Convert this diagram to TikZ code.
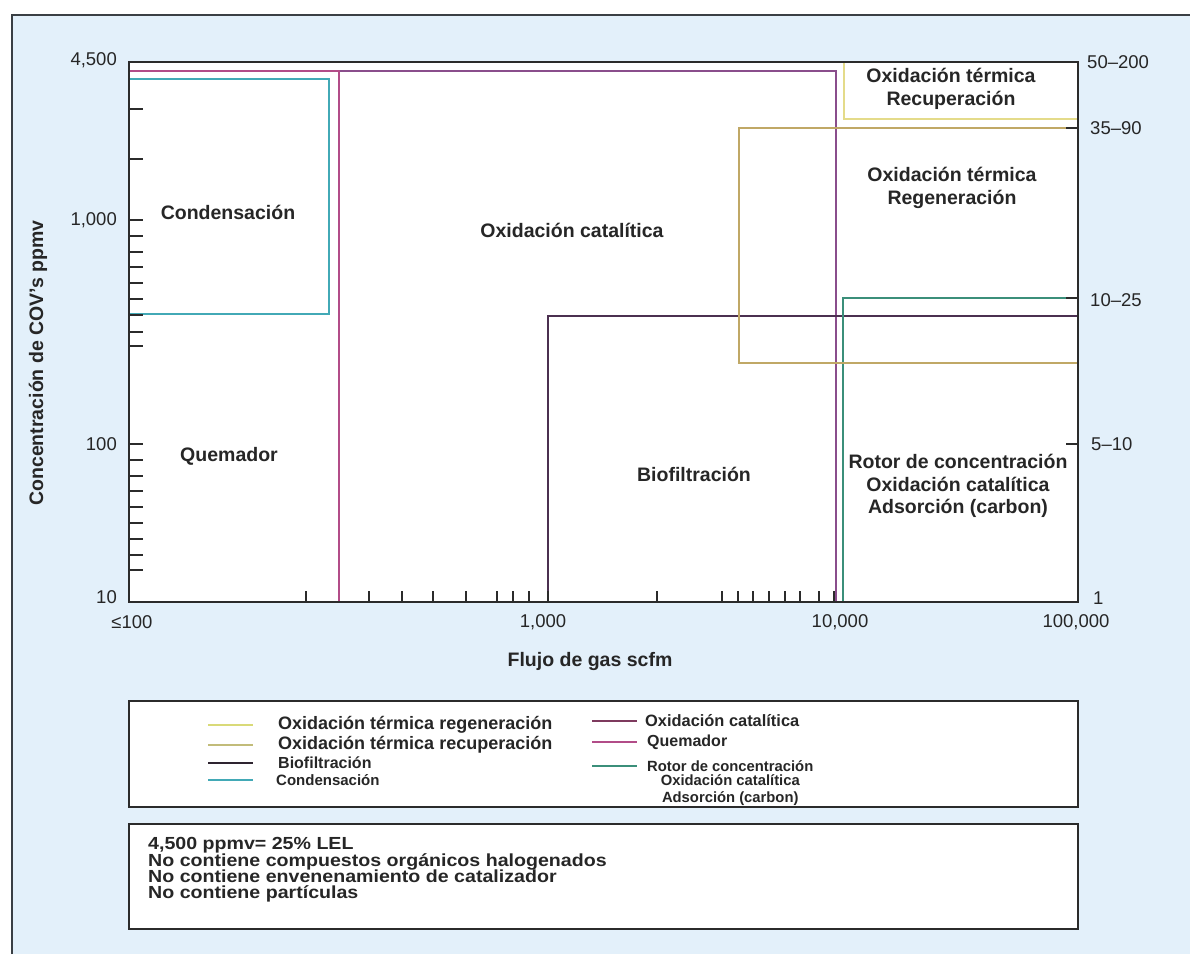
\documentclass[tikz,border=0pt]{standalone}
\usepackage{fontspec}
\setmainfont{Liberation Sans}
\newfontfamily\notesfont[FakeStretch=1.12]{Liberation Sans}
\usetikzlibrary{positioning}
\definecolor{frameBg}{HTML}{E3F0FA}
\definecolor{frameGray}{HTML}{3A3F44}
\definecolor{axisDark}{HTML}{2B2B2B}
\definecolor{textDark}{HTML}{262626}
\definecolor{condTeal}{HTML}{42A9B6}
\definecolor{quemPink}{HTML}{B24C88}
\definecolor{catPurple}{HTML}{8A4E8C}
\definecolor{bioPurple}{HTML}{4B3050}
\definecolor{rotorGreen}{HTML}{3B8F7A}
\definecolor{recupYellow}{HTML}{E4DB8A}
\definecolor{regenTan}{HTML}{C0A866}
\definecolor{legYellow}{HTML}{D9DA78}
\definecolor{legOlive}{HTML}{C2BC7A}
\definecolor{legDark}{HTML}{2E2430}
\definecolor{legMaroon}{HTML}{7E3A5E}
\newcommand{\TightLines}{\lineskiplimit-100pt\relax}
\newcommand{\LegendItem}[6]{
    % #1: node name, #2: position, #3: line colour, #4: gap to text, #5: font size, #6: label
    \node[anchor=west, inner sep=0pt, text=textDark, font=\bfseries\fontsize{#5}{#5}\selectfont] (#1) at (#2) {#6};
    \draw[line width=1.6pt, #3] ([xshift=-#4-45pt]#1.west) -- ([xshift=-#4]#1.west);
}

\begin{document}
\begin{tikzpicture}[x=1pt, y=-1pt,
        regionLbl/.style={inner sep=0pt, align=center, text=textDark, font=\bfseries\fontsize{19.5}{23}\selectfont},
        axisNum/.style={inner sep=0pt, text=textDark, font=\fontsize{18.5}{18.5}\selectfont},
        tickLine/.style={line width=1.4pt, axisDark},
        zoneLine/.style={line width=1.6pt}]
        \useasboundingbox (0,0) rectangle (1190,954);

        % Background and frame
        \fill[white] (0,0) rectangle (1190,954);
        \fill[frameBg] (12,15) rectangle (1190,954);
        \draw[line width=1.5pt, frameGray] (12,954) -- (12,15) -- (1190,15);
        \fill[white] (129,62) rectangle (1078,602);

        % Zones
        \draw[zoneLine, condTeal] (129,79) -- (329,79) -- (329,314) -- (129,314);
        \draw[zoneLine, catPurple] (339,602) -- (339,71) -- (836,71) -- (836,602);
        \draw[zoneLine, quemPink] (129,71) -- (339,71) -- (339,602);
        \draw[zoneLine, bioPurple] (548,602) -- (548,316) -- (1078,316);
        \draw[zoneLine, rotorGreen] (843,602) -- (843,298) -- (1078,298);
        \draw[zoneLine, regenTan] (1078,128) -- (739,128) -- (739,363) -- (1078,363);
        \draw[zoneLine, recupYellow] (844,62) -- (844,119) -- (1078,119);

        % Ticks
        \foreach \ty in {109,159,220,236,252,267,283,299,315,332,346,444,460,476,491,507,523,539,555,570}
            \draw[tickLine] (129,\ty) -- (143,\ty);
        \foreach \tx in {306,369,402,433,466,497,513,529,548,657,722,738,753,769,785,800,819,834}
            \draw[tickLine] (\tx,602) -- (\tx,591);
        \foreach \ty in {128,298,444}
            \draw[tickLine] (1078,\ty) -- (1066,\ty);

        % Axes
        \draw[line width=2.2pt, axisDark] (129,62) rectangle (1078,602);

        % Zone labels
        \node[regionLbl] (condLbl) at (228,212) {Condensación};
        \node[regionLbl] (catLbl) at (572,230) {Oxidación catalítica};
        \node[regionLbl] (quemLbl) at (229,456) {Quemador};
        \node[regionLbl] (bioLbl) at (694,474) {Biofiltración};
        \node[regionLbl] (recupLbl) at (951,89) {Oxidación térmica\\Recuperación};
        \node[regionLbl] (regenLbl) at (952,188) {Oxidación térmica\\Regeneración};
        \node[regionLbl, font=\bfseries\fontsize{19.5}{22.5}\selectfont] (rotorLbl) at (958,486) {Rotor de concentración\\Oxidación catalítica\\Adsorción (carbon)};

        % Axis values
        \node[axisNum, anchor=east] (y4500) at (117,60) {4,500};
        \node[axisNum, anchor=east] (y1000) at (117,220) {1,000};
        \node[axisNum, anchor=east] (y100) at (117,444) {100};
        \node[axisNum, anchor=east] (y10) at (117,597) {10};
        \node[axisNum] (xMin) at (132,622) {≤100};
        \node[axisNum] (x1000) at (543,622) {1,000};
        \node[axisNum] (x10000) at (840,622) {10,000};
        \node[axisNum] (x100000) at (1076,622) {100,000};
        \node[axisNum, anchor=west] (r50) at (1087,62) {50--200};
        \node[axisNum, anchor=west] (r35) at (1090,128) {35--90};
        \node[axisNum, anchor=west] (r10) at (1090,300) {10--25};
        \node[axisNum, anchor=west] (r5) at (1091,444) {5--10};
        \node[axisNum, anchor=west] (r1) at (1093,598) {1};

        % Axis titles
        \node[regionLbl] (xTitle) at (590,661) {Flujo de gas scfm};
        \node[regionLbl, rotate=90] (yTitle) at (38,363) {Concentración de COV's ppmv};

        % Legend
        \draw[line width=2pt, axisDark, fill=white] (129,701) rectangle (1078,807);
        \LegendItem{lgRegen}{278,725}{legYellow}{25pt}{18}{Oxidación térmica regeneración}
        \LegendItem{lgRecup}{278,745}{legOlive}{25pt}{18}{Oxidación térmica recuperación}
        \LegendItem{lgBio}{278,763}{legDark}{25pt}{16}{Biofiltración}
        \LegendItem{lgCond}{276,780}{condTeal}{23pt}{15}{Condensación}
        \LegendItem{lgCat}{645,721}{legMaroon}{8pt}{16.4}{Oxidación catalítica}
        \LegendItem{lgQuem}{647,742}{quemPink}{10pt}{16}{Quemador}
        \LegendItem{lgRotor}{647,766}{rotorGreen}{10pt}{14.8}{Rotor de concentración}
        \node[below=3pt of lgRotor, inner sep=0pt, align=center, text=textDark, font=\bfseries\fontsize{14.8}{16.5}\selectfont] (lgRotorB) {Oxidación catalítica\\Adsorción (carbon)};

        % Notes
        \draw[line width=2pt, axisDark, fill=white] (129,824) rectangle (1078,929);
        \node[anchor=west, inner sep=0pt, align=left, text=textDark, font=\notesfont\bfseries\fontsize{17.5}{16.3}\selectfont\TightLines] (notes) at (148,870) {4,500 ppmv= 25\% LEL\\No contiene compuestos orgánicos halogenados\\No contiene envenenamiento de catalizador\\No contiene partículas};
    \end{tikzpicture}
\end{document}
